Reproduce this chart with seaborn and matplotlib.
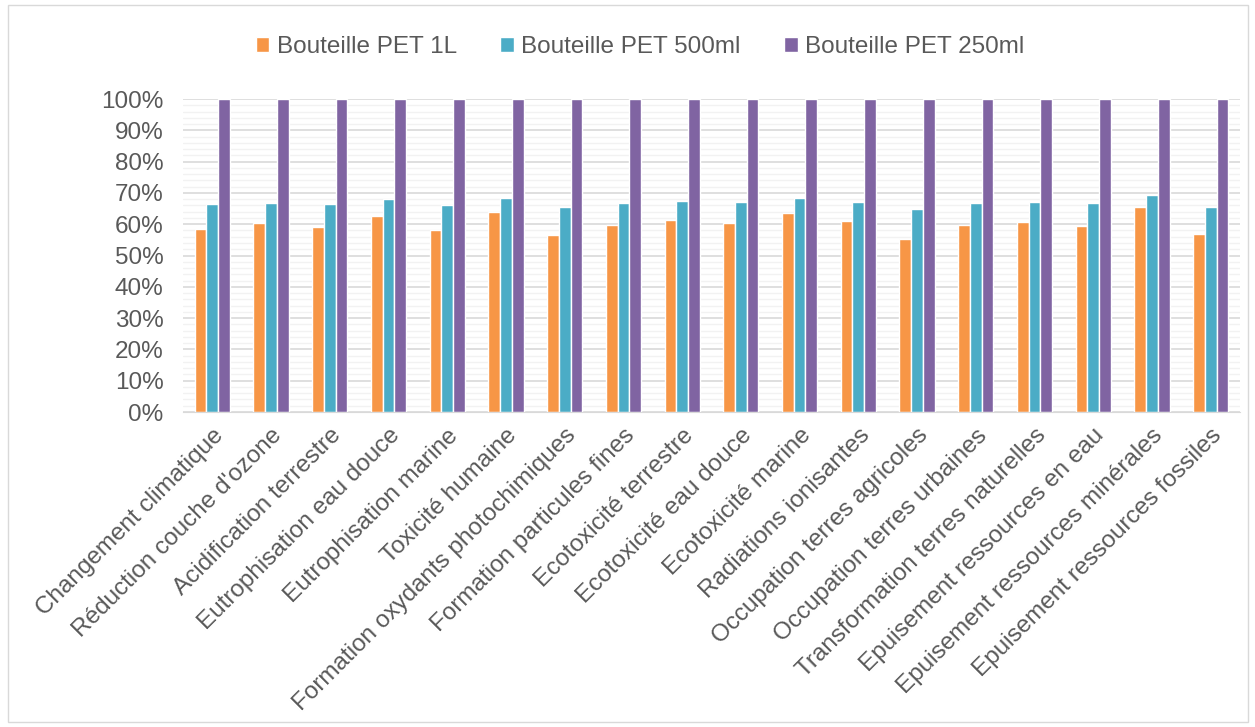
import pandas as pd
import numpy as np
import matplotlib
matplotlib.use("Agg")
import matplotlib.pyplot as plt
import seaborn as sns
from matplotlib.ticker import MultipleLocator, PercentFormatter
from matplotlib.patches import Rectangle

# Categories (impact categories)
categories = [
    "Changement climatique", "Réduction couche d'ozone", "Acidification terrestre",
    "Eutrophisation eau douce", "Eutrophisation marine", "Toxicité humaine",
    "Formation oxydants photochimiques", "Formation particules fines",
    "Ecotoxicité terrestre", "Ecotoxicité eau douce", "Ecotoxicité marine",
    "Radiations ionisantes", "Occupation terres agricoles", "Occupation terres urbaines",
    "Transformation terres naturelles", "Epuisement ressources en eau",
    "Epuisement ressources minérales", "Epuisement ressources fossiles",
]

series_names = ["Bouteille PET 1L", "Bouteille PET 500ml", "Bouteille PET 250ml"]

pet_1l = [58.5, 60.4, 59.0, 62.6, 58.1, 63.9, 56.5, 59.8, 61.4,
          60.3, 63.7, 60.9, 55.3, 59.8, 60.6, 59.4, 65.6, 57.0]
pet_500 = [66.4, 66.9, 66.6, 68.0, 66.1, 68.5, 65.4, 66.8, 67.5,
           67.0, 68.5, 67.2, 65.0, 66.9, 67.1, 66.7, 69.4, 65.6]
pet_250 = [100] * 18

colors = ["#F79646", "#4BACC6", "#8064A2"]

df = pd.DataFrame({
    "categorie": categories * 3,
    "serie": [series_names[0]] * 18 + [series_names[1]] * 18 + [series_names[2]] * 18,
    "valeur": pet_1l + pet_500 + pet_250,
})

sns.set_style("white")
plt.rcParams["font.family"] = ["Liberation Sans", "DejaVu Sans"]

fig = plt.figure(figsize=(12.55, 7.27), dpi=100)
ax = fig.add_axes([183 / 1255, 1 - 412 / 727, 1057 / 1255, 313 / 727])

sns.barplot(data=df, x="categorie", y="valeur", hue="serie", palette=colors,
            width=0.6, saturation=1, ax=ax, legend=True)

ax.set_ylim(0, 100)
ax.yaxis.set_major_locator(MultipleLocator(10))
ax.yaxis.set_minor_locator(MultipleLocator(2))
ax.yaxis.set_major_formatter(PercentFormatter(decimals=0))
ax.grid(which="major", axis="y", color="#D9D9D9", linewidth=1.2)
ax.grid(which="minor", axis="y", color="#F2F2F2", linewidth=1.0)
ax.set_axisbelow(True)
ax.tick_params(axis="both", which="both", length=0, labelsize=17.5, colors="#595959")
ax.tick_params(axis="y", pad=14)
ax.set_xlim(-0.5, len(categories) - 0.5)
plt.setp(ax.get_xticklabels(), rotation=45, ha="right", rotation_mode="anchor")
ax.tick_params(axis="x", pad=9)
ax.set_xlabel("")
ax.set_ylabel("")
for s in ["top", "right", "left"]:
    ax.spines[s].set_visible(False)
ax.spines["bottom"].set_color("#D9D9D9")

leg = ax.legend(loc="center", bbox_to_anchor=((640 - 183) / 1057, (412 - 47) / 313),
                ncol=3, frameon=False, fontsize=17.5, handlelength=0.55, handleheight=0.55,
                handletextpad=0.3, columnspacing=1.8)
for t in leg.get_texts():
    t.set_color("#595959")

fig.patches.append(Rectangle((8 / 1255, 5 / 727), 1240 / 1255, 717 / 727, transform=fig.transFigure,
                             fill=False, edgecolor="#D9D9D9", linewidth=1))

fig.savefig("out.png", dpi=100)
